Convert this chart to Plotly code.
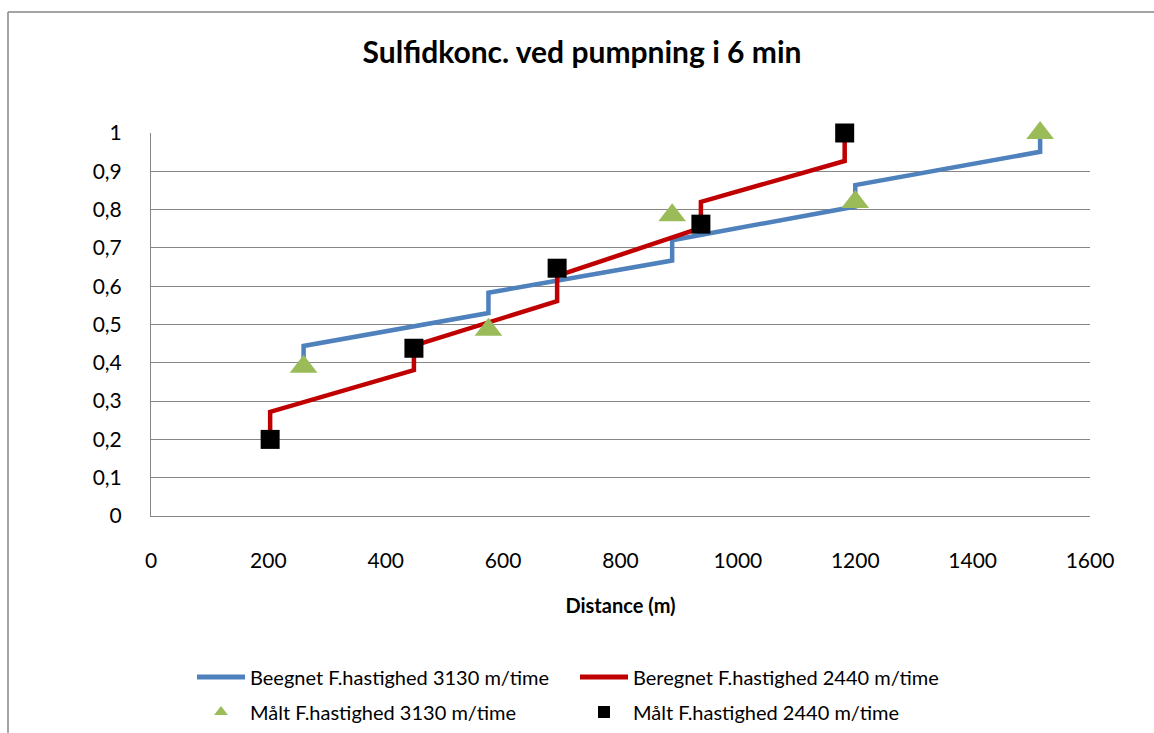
import plotly.graph_objects as go

# Calculated profiles (step lines)
blue_x = [260, 260, 575, 575, 888, 888, 1200, 1200, 1515, 1515]
blue_y = [0.39, 0.444, 0.53, 0.583, 0.667, 0.72, 0.808, 0.864, 0.951, 1.0]
red_x = [203, 203, 448, 448, 692, 692, 937, 937, 1182, 1182]
red_y = [0.2, 0.272, 0.381, 0.445, 0.561, 0.627, 0.752, 0.82, 0.927, 1.0]

# Measured values
tri_x = [260, 575, 888, 1200, 1515]
tri_y = [0.39, 0.486, 0.785, 0.82, 1.0]
sq_x = [203, 448, 692, 937, 1182]
sq_y = [0.2, 0.438, 0.647, 0.762, 1.0]

x_ticks = [0, 200, 400, 600, 800, 1000, 1200, 1400, 1600]
y_ticks = [0, 0.1, 0.2, 0.3, 0.4, 0.5, 0.6, 0.7, 0.8, 0.9, 1.0]

FONT = "Lato"
W, H = 1154, 733
L, R, T, B = 151, 64, 133, 217

fig = go.Figure()
fig.add_trace(go.Scatter(x=blue_x, y=blue_y, mode="lines",
                         line=dict(color="#4F81BD", width=4.5), cliponaxis=False,
                         name="Beegnet F.hastighed 3130 m/time", legend="legend"))
fig.add_trace(go.Scatter(x=red_x, y=red_y, mode="lines",
                         line=dict(color="#C00000", width=4.5), cliponaxis=False,
                         name="Beregnet F.hastighed 2440 m/time", legend="legend"))
fig.add_trace(go.Scatter(x=tri_x, y=tri_y, mode="markers", cliponaxis=False,
                         marker=dict(symbol="triangle-up", color="#9BBB59", size=24),
                         name="Målt F.hastighed 3130 m/time", legend="legend2"))
fig.add_trace(go.Scatter(x=sq_x, y=sq_y, mode="markers", cliponaxis=False,
                         marker=dict(symbol="square", color="#000000", size=19),
                         name="Målt F.hastighed 2440 m/time", legend="legend2"))

legend_common = dict(orientation="h", xref="container", yref="container",
                     xanchor="left", yanchor="middle", itemsizing="constant",
                     font=dict(family=FONT, size=20, color="#000000"),
                     entrywidth=320, entrywidthmode="pixels", itemwidth=48,
                     bgcolor="rgba(0,0,0,0)", traceorder="normal")

fig.update_layout(
    width=W, height=H,
    margin=dict(l=L, r=R, t=T, b=B, autoexpand=False),
    paper_bgcolor="white", plot_bgcolor="white",
    separators=", ",
    title=dict(text="<b>Sulfidkonc. ved pumpning i 6 min</b>",
               font=dict(family=FONT, size=30, color="#000000"),
               xref="container", yref="container",
               x=582 / W, y=1 - 52 / H, xanchor="center", yanchor="middle"),
    showlegend=True,
    legend=dict(legend_common, x=192 / W, y=1 - 677 / H),
    legend2=dict(legend_common, x=192 / W, y=1 - 712 / H),
    xaxis=dict(range=[0, 1600], tickvals=x_ticks, showgrid=False,
               showline=True, linecolor="#868686", linewidth=1,
               zeroline=False, ticks="", ticklabelstandoff=26,
               tickfont=dict(family=FONT, size=21, color="#000000"),
               title=dict(text="<b>Distance (m)</b>",
                          font=dict(family=FONT, size=20, color="#000000"),
                          standoff=27)),
    yaxis=dict(range=[0, 1], tickvals=y_ticks, showgrid=True,
               gridcolor="#868686", gridwidth=1,
               showline=True, linecolor="#868686", linewidth=1,
               zeroline=False, ticks="", ticklabelstandoff=24,
               tickformat=".1~f",
               tickfont=dict(family=FONT, size=21, color="#000000")),
    shapes=[
        dict(type="line", xref="paper", yref="paper",
             x0=(8 - L) / (W - L - R), x1=(W + 10 - L) / (W - L - R),
             y0=(H - B - 12) / (H - T - B), y1=(H - B - 12) / (H - T - B),
             line=dict(color="#868686", width=1.5)),
        dict(type="line", xref="paper", yref="paper",
             x0=(8 - L) / (W - L - R), x1=(8 - L) / (W - L - R),
             y0=(H - B - 12) / (H - T - B), y1=(H - B - H - 10) / (H - T - B),
             line=dict(color="#868686", width=1.5)),
    ],
)

fig.write_html("out.html")
